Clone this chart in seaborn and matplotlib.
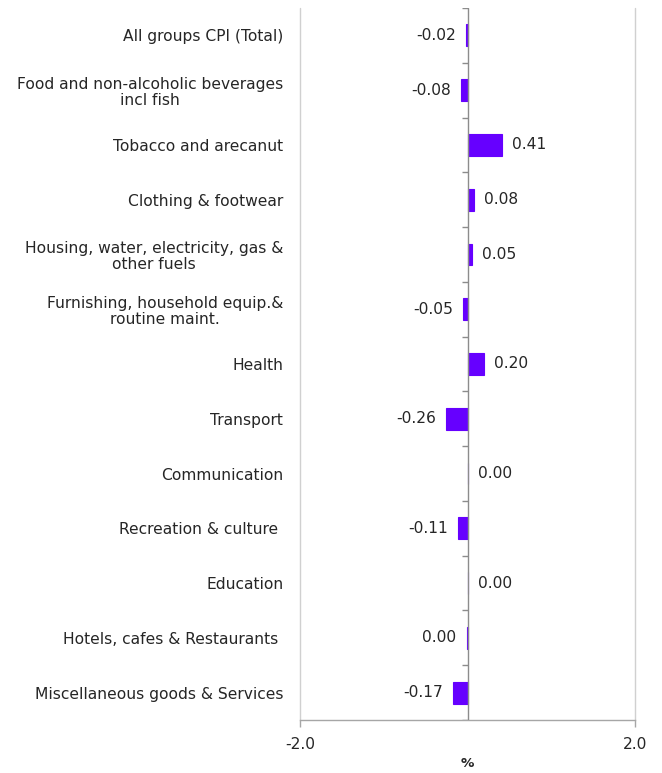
import matplotlib
matplotlib.use("Agg")
import matplotlib.pyplot as plt
import seaborn as sns
import pandas as pd

categories = [
    "All groups CPI (Total)",
    "Food and non-alcoholic beverages\nincl fish",
    "Tobacco and arecanut",
    "Clothing & footwear",
    "Housing, water, electricity, gas &\nother fuels",
    "Furnishing, household equip.&\nroutine maint.",
    "Health",
    "Transport",
    "Communication",
    "Recreation & culture ",
    "Education",
    "Hotels, cafes & Restaurants ",
    "Miscellaneous goods & Services",
]
values = [-0.02, -0.08, 0.41, 0.08, 0.05, -0.05, 0.20, -0.26, 0.00, -0.11, 0.00, -0.01, -0.17]
value_labels = ["-0.02", "-0.08", "0.41", "0.08", "0.05", "-0.05", "0.20", "-0.26",
                "0.00", "-0.11", "0.00", "0.00", "-0.17"]
x_ticks = [-2.0, 2.0]
x_tick_labels = ["-2.0", "2.0"]

sns.set_theme(style="white")
plt.rcParams["font.family"] = ["DejaVu Sans"]

df = pd.DataFrame({"category": categories, "value": values})

fig = plt.figure(figsize=(6.62, 7.73), dpi=100)
ax = fig.add_axes([300 / 662, 1 - 720 / 773, 335 / 662, 712 / 773])

bar_color = "#6600FF"
text_color = "#262626"
fs = 11.2

sns.barplot(data=df, x="value", y="category", orient="h", color=bar_color,
            width=0.4, saturation=1, ax=ax, zorder=3,
            edgecolor=bar_color, linewidth=0.8)

n = len(categories)
ax.set_xlim(-2.0, 2.0)
ax.set_ylim(n - 0.5, -0.5)

for xt in x_ticks:
    ax.axvline(xt, color="#D0D0D0", lw=1, zorder=1, clip_on=False)

ax.axvline(0, color="#8C8C8C", lw=1, zorder=4)
bounds = [i - 0.5 for i in range(n + 1)]
ax.hlines(bounds, -0.07, 0, color="#8C8C8C", lw=1, zorder=4)

for s in ["top", "right", "left"]:
    ax.spines[s].set_visible(False)
ax.spines["bottom"].set_color("#A6A6A6")
ax.spines["bottom"].set_linewidth(1)

ax.set_xticks(x_ticks)
ax.set_xticklabels(x_tick_labels, fontsize=fs, color=text_color)
ax.tick_params(axis="x", direction="out", length=5, width=1, color="#A6A6A6",
               bottom=True, pad=7)
ax.set_yticks(range(n))
ax.set_yticklabels(categories, fontsize=fs, color=text_color, multialignment="center",
                   linespacing=1.1)
ax.tick_params(axis="y", length=0, pad=12)

ax.set_ylabel("")
ax.set_xlabel("%", fontsize=fs - 1.5, color=text_color, fontweight="bold", labelpad=4)

offset = 0.12
for i, (v, lab) in enumerate(zip(values, value_labels)):
    if v >= 0:
        ax.text(v + offset, i, lab, ha="left", va="center", fontsize=fs, color=text_color)
    else:
        ax.text(v - offset, i, lab, ha="right", va="center", fontsize=fs, color=text_color)

fig.savefig("out.png", dpi=100)
